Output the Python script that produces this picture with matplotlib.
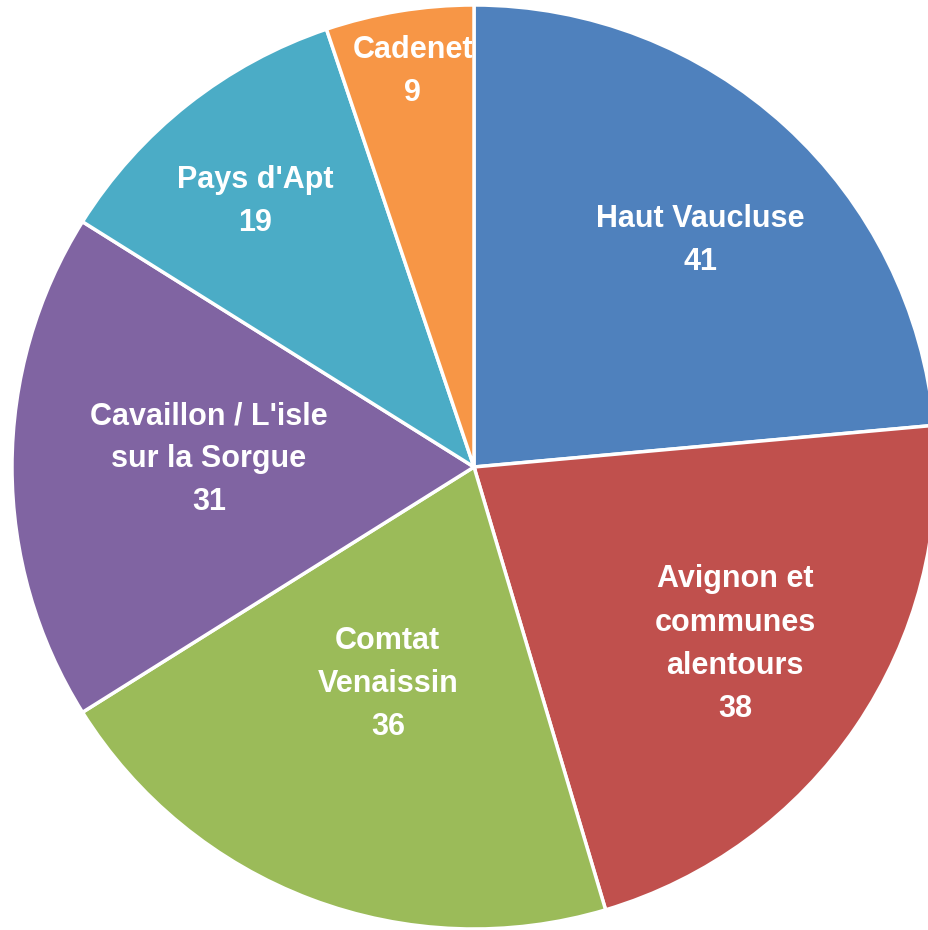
import matplotlib
matplotlib.use("Agg")
import matplotlib.pyplot as plt
import numpy as np

# data
labels = ["Haut Vaucluse", "Avignon et\ncommunes\nalentours", "Comtat\nVenaissin",
          "Cavaillon / L'isle\nsur la Sorgue", "Pays d'Apt", "Cadenet"]
values = [41, 38, 36, 31, 19, 9]

# style / layout
colors = ["#4F81BD", "#C0504D", "#9BBB59", "#8064A2", "#4BACC6", "#F79646"]
label_dist = [0.693, 0.683, 0.505, 0.574, 0.745, 0.866]
label_dang = [-2.5, 0.0, -1.0, -1.7, 1.2, -0.5]

fig = plt.figure(figsize=(9.29, 9.30), dpi=100)
W, H = 929, 930
cx, cy, R = 474, 467, 462
ax = fig.add_axes([(cx - R) / W, (H - cy - R) / H, 2 * R / W, 2 * R / H])

wedges, _ = ax.pie(values, colors=colors, startangle=90, counterclock=False,
                   radius=1, wedgeprops=dict(edgecolor="white", linewidth=2.5))
ax.set_xlim(-1, 1)
ax.set_ylim(-1, 1)
ax.set_aspect("equal")
ax.axis("off")

for w, lab, v, d, da in zip(wedges, labels, values, label_dist, label_dang):
    ang = np.deg2rad((w.theta1 + w.theta2) / 2 + da)
    ax.text(d * np.cos(ang), d * np.sin(ang), f"{lab}\n{v}", ha="center", va="center",
            color="white", fontsize=22, fontweight="bold",
            family=["Liberation Sans Narrow", "Liberation Sans", "DejaVu Sans"],
            linespacing=1.57)

fig.savefig("out.png", dpi=100)
